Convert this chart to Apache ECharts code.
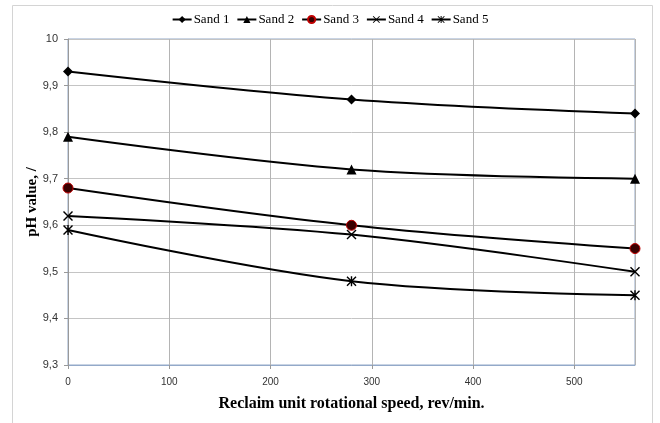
<!DOCTYPE html>
<html>
<head>
<meta charset="utf-8">
<script src="https://cdn.jsdelivr.net/npm/echarts@6/dist/echarts.min.js"></script>
<style>
  html, body { margin: 0; padding: 0; background: #fff; }
  #chart { width: 660px; height: 423px; }
</style>
</head>
<body>
<div id="chart"></div>
<script>
// reclaim unit rotational speed, rev/min
const speeds = [0, 280, 560];
const sand1 = [9.93, 9.87, 9.84];
const sand2 = [9.79, 9.72, 9.70];
const sand3 = [9.68, 9.60, 9.55];
const sand4 = [9.62, 9.58, 9.50];
const sand5 = [9.59, 9.48, 9.45];
const seriesNames = ['Sand 1', 'Sand 2', 'Sand 3', 'Sand 4', 'Sand 5'];

// marker shapes
const crossPath = 'path://M0,1 L1,0 L10,9 L9,10 Z M9,0 L10,1 L1,10 L0,9 Z';
const starPath = 'path://M0,1 L1,0 L10,9 L9,10 Z M9,0 L10,1 L1,10 L0,9 Z M4.3,0 L5.7,0 L5.7,10 L4.3,10 Z';

function pairs(values) {
    return speeds.map(function (s, i) { return [s, values[i]]; });
}

function makeSeries(name, values, symbol, size, style) {
    return {
        name: name,
        type: 'line',
        data: pairs(values),
        smooth: 0.35,
        symbol: symbol,
        symbolSize: size,
        showAllSymbol: true,
        clip: false,
        lineStyle: { color: '#000', width: 2 },
        itemStyle: style || { color: '#000' }
    };
}

let myChart = echarts.init(document.getElementById('chart'));

let option = {
    backgroundColor: '#fff',
    animation: false,
    graphic: [{
        type: 'rect',
        shape: { x: 12.5, y: 5.5, width: 640, height: 430 },
        style: { fill: 'none', stroke: '#d4d4d4', lineWidth: 1 },
        silent: true,
        z: -1
    }],
    legend: {
        top: 8,
        left: 'center',
        itemWidth: 19,
        itemHeight: 9,
        itemGap: 7,
        textStyle: { fontFamily: 'Liberation Serif', fontSize: 13, color: '#000', padding: [0, 0, 0, -3] },
        data: seriesNames
    },
    grid: {
        left: 68,
        right: 25,
        top: 39,
        bottom: 58,
        show: true,
        borderColor: '#93a9c9',
        borderWidth: 1
    },
    xAxis: {
        type: 'value',
        min: 0,
        max: 560,
        interval: 100,
        name: 'Reclaim unit rotational speed, rev/min.',
        nameLocation: 'middle',
        nameGap: 31,
        nameTextStyle: { fontFamily: 'Liberation Serif', fontSize: 16, fontWeight: 'bold', color: '#000' },
        axisLine: { show: true, lineStyle: { color: '#93a9c9' } },
        axisTick: { show: true, length: 4, lineStyle: { color: '#999' } },
        axisLabel: {
            showMaxLabel: false,
            margin: 12,
            fontFamily: 'Liberation Sans',
            fontSize: 10,
            color: '#333'
        },
        splitLine: { show: true, lineStyle: { color: '#b4b4b4', width: 1 } }
    },
    yAxis: {
        type: 'value',
        min: 9.3,
        max: 10,
        interval: 0.1,
        name: 'pH value, /',
        nameLocation: 'middle',
        nameGap: 28,
        nameMoveOverlap: false,
        nameRotate: 90,
        nameTextStyle: { fontFamily: 'Liberation Serif', fontSize: 15, fontWeight: 'bold', color: '#000' },
        axisLine: { show: true, lineStyle: { color: '#999' } },
        axisTick: { show: true, length: 4, lineStyle: { color: '#999' } },
        axisLabel: {
            margin: 10,
            fontFamily: 'Liberation Sans',
            fontSize: 11,
            color: '#333',
            formatter: function (v) {
                return (Math.round(v * 10) / 10).toString().replace('.', ',');
            }
        },
        splitLine: { show: true, lineStyle: { color: '#c4c4c4', width: 1 } }
    },
    series: [
        makeSeries('Sand 1', sand1, 'diamond', 10),
        makeSeries('Sand 2', sand2, 'triangle', 10),
        makeSeries('Sand 3', sand3, 'circle', 10, { color: '#3a0000', borderColor: '#c00000', borderWidth: 1 }),
        makeSeries('Sand 4', sand4, crossPath, 10),
        makeSeries('Sand 5', sand5, starPath, 10)
    ]
};

myChart.setOption(option);
window.onresize = function () {
    myChart.resize();
}
</script>
</body>
</html>
